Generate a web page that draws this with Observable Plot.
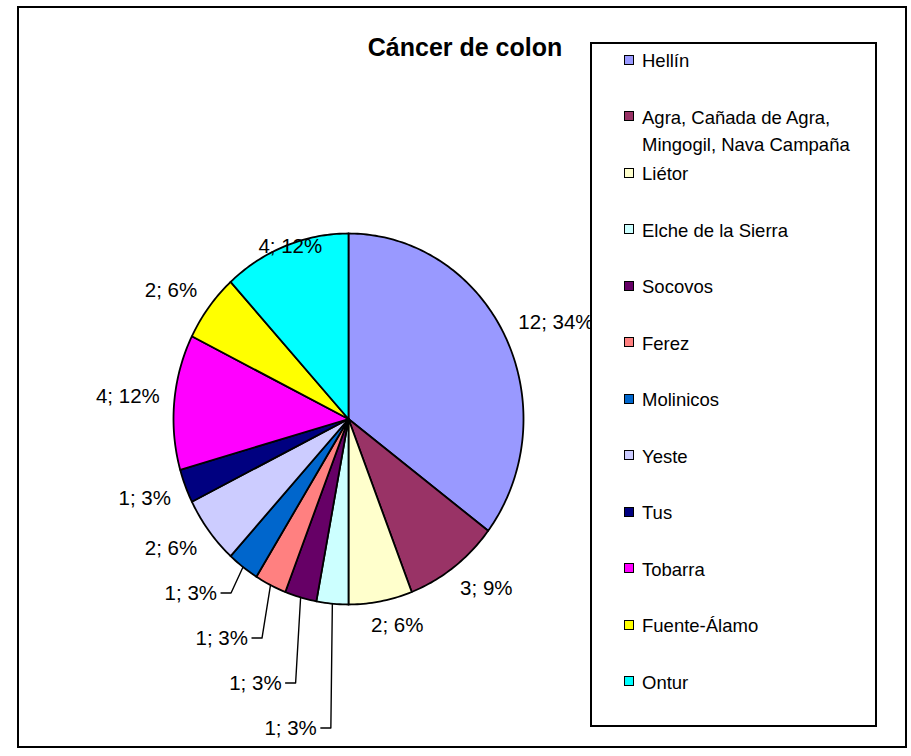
<!DOCTYPE html>
<html>
<head>
<meta charset="utf-8">
<script src="https://cdn.jsdelivr.net/npm/d3@7"></script>
<script src="https://cdn.jsdelivr.net/npm/@observablehq/plot@0.6"></script>
<style>
  body { margin: 0; background: #fff; }
  #wrap { position: relative; width: 911px; height: 756px; overflow: hidden; font-family: "Liberation Sans", Arial, sans-serif; color: #000; }
  #chart { position: absolute; left: 0; top: 0; }
  #frame { position: absolute; left: 17px; top: 6px; width: 886px; height: 738px; border: 2px solid #000; pointer-events: none; }
  #title { position: absolute; left: 315px; width: 300px; top: 32px; text-align: center; font-weight: bold; font-size: 25px; line-height: 30px; }
  #legend { position: absolute; left: 590px; top: 42px; width: 283px; height: 681px; border: 2px solid #000; background: #fff; }
  .item { position: absolute; left: 0; width: 280px; }
  .sw { position: absolute; left: 32px; top: 7.5px; width: 8px; height: 8px; border: 1.5px solid #000; }
  .lab { position: absolute; left: 50px; width: 226px; font-size: 18.5px; line-height: 27px; white-space: normal; }
</style>
</head>
<body>
<div id="wrap">
  <div id="chart"></div>
  <div id="frame"></div>
  <div id="title"></div>
  <div id="legend"></div>
</div>
<script>
// ---- data ----
const title = "Cáncer de colon";
const categories = ["Hellín", "Agra, Cañada de Agra, Mingogil, Nava Campaña", "Liétor", "Elche de la Sierra", "Socovos", "Ferez", "Molinicos", "Yeste", "Tus", "Tobarra", "Fuente-Álamo", "Ontur"];
const values = [12, 3, 2, 1, 1, 1, 1, 2, 1, 4, 2, 4];
const labelTexts = ["12; 34%", "3; 9%", "2; 6%", "1; 3%", "1; 3%", "1; 3%", "1; 3%", "2; 6%", "1; 3%", "4; 12%", "2; 6%", "4; 12%"];
const colors = ["#9999FF", "#993366", "#FFFFCC", "#CCFFFF", "#660066", "#FF8080", "#0066CC", "#CCCCFF", "#000080", "#FF00FF", "#FFFF00", "#00FFFF"];

// ---- layout ----
const W = 911, H = 756;
const mL = 173, mR = 388, mT = 233, mB = 152;
const RX = (W - mL - mR) / 2, RY = (H - mT - mB) / 2; // px per unit
const FONT = "'Liberation Sans', Arial, sans-serif";
const LFS = 20.5;

const ctx = document.createElement("canvas").getContext("2d");
ctx.font = `${LFS}px ${FONT}`;

const total = d3.sum(values);
let cum = 0;
const slices = values.map((v, i) => {
  const a0 = cum / total * 2 * Math.PI; cum += v;
  const a1 = cum / total * 2 * Math.PI;
  return {i, v, a0, a1, mid: (a0 + a1) / 2};
});

// slice polygons
const pts = [];
for (const s of slices) {
  pts.push({k: s.i, x: 0, y: 0});
  const n = Math.max(2, Math.ceil((s.a1 - s.a0) / (Math.PI / 180)));
  for (let j = 0; j <= n; j++) {
    const a = s.a0 + (s.a1 - s.a0) * j / n;
    pts.push({k: s.i, x: Math.sin(a), y: Math.cos(a)});
  }
}

// labels
const sgnPow = t => Math.sign(t) * Math.pow(Math.abs(t), 0.4);
const labels = [];
const leaderPts = [];
const leaders = slices.filter(s => s.v / total < 0.04 && s.mid > Math.PI && s.mid < 1.25 * Math.PI)
  .sort((a, b) => b.mid - a.mid);
const leaderSet = new Set(leaders.map(s => s.i));

for (const s of slices) {
  if (leaderSet.has(s.i)) continue;
  const ex = RX * Math.sin(s.mid), ey = -RY * Math.cos(s.mid);
  const r = Math.hypot(ex, ey);
  const ux = ex / r, uy = ey / r;
  const w = ctx.measureText(labelTexts[s.i]).width / 2, h = 10;
  let cx = 1.08 * r * ux + w * sgnPow(ux) + 6 * ux * Math.abs(uy);
  let cy = 1.08 * r * uy + h * sgnPow(uy);
  if (cy - h < -RY) { cx = ex + 5; cy = ey; } // best fit: keep within plot area
  labels.push({x: cx / RX, y: -cy / RY, t: labelTexts[s.i], anchor: "middle"});
}

let ey0 = null;
leaders.forEach((s, k) => {
  const ex = RX * Math.sin(s.mid), ey = -RY * Math.cos(s.mid);
  if (ey0 === null) ey0 = ey;
  const ly = ey0 + 26 + 45 * k;
  const bx = ex - 12 + 3.5 * k;
  [[ex, ey], [bx, ly], [bx - 10, ly]].forEach(([px, py]) => leaderPts.push({k: s.i, x: px / RX, y: -py / RY}));
  labels.push({x: (bx - 14) / RX, y: -ly / RY, t: labelTexts[s.i], anchor: "end"});
});

const plot = Plot.plot({
  width: W, height: H,
  marginLeft: mL, marginRight: mR, marginTop: mT, marginBottom: mB,
  x: {domain: [-1, 1], axis: null},
  y: {domain: [-1, 1], axis: null},
  color: {type: "identity"},
  style: {background: "transparent", overflow: "visible"},
  marks: [
    Plot.line(pts, {x: "x", y: "y", z: "k", fill: d => colors[d.k], stroke: "#000", strokeWidth: 1.8, curve: "linear-closed"}),
    Plot.line(leaderPts, {x: "x", y: "y", z: "k", stroke: "#000", strokeWidth: 1.4}),
    Plot.text(labels.filter(d => d.anchor === "middle"), {x: "x", y: "y", text: "t", fontSize: LFS, fontFamily: FONT, fill: "#000", textAnchor: "middle", lineAnchor: "middle"}),
    Plot.text(labels.filter(d => d.anchor === "end"), {x: "x", y: "y", text: "t", fontSize: LFS, fontFamily: FONT, fill: "#000", textAnchor: "end", lineAnchor: "middle"})
  ]
});
document.getElementById("chart").appendChild(plot);

document.getElementById("title").textContent = title;

const legend = document.getElementById("legend");
categories.forEach((c, i) => {
  const it = document.createElement("div");
  it.className = "item";
  it.style.top = (3 + 56.5 * i) + "px";
  const sw = document.createElement("div");
  sw.className = "sw";
  sw.style.background = colors[i];
  const lb = document.createElement("div");
  lb.className = "lab";
  lb.textContent = c;
  it.appendChild(sw); it.appendChild(lb);
  legend.appendChild(it);
});
</script>
</body>
</html>
